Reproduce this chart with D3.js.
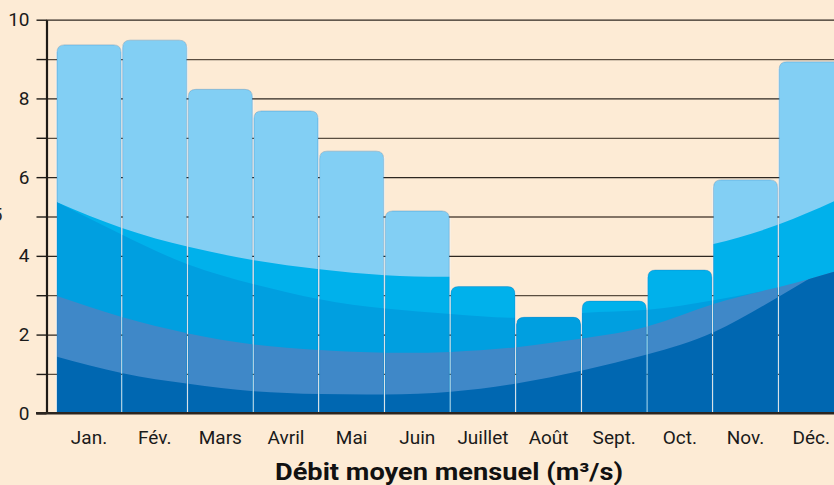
<!DOCTYPE html>
<html>
<head>
<meta charset="utf-8">
<script src="https://cdn.jsdelivr.net/npm/d3@7"></script>
<style>
  html, body { margin: 0; padding: 0; background: #fdebd5; }
  svg { display: block; }
  text { font-family: Roboto, "Noto Sans", sans-serif; }
</style>
</head>
<body>
<svg id="chart" width="834" height="485"></svg>
<script>
// ---- data ----
const months = ["Jan.", "Fév.", "Mars", "Avril", "Mai", "Juin", "Juillet", "Août", "Sept.", "Oct.", "Nov.", "Déc."];
const flow = [9.36, 9.48, 8.23, 7.68, 6.66, 5.14, 3.22, 2.44, 2.85, 3.64, 5.93, 8.93];
const yTicks = [0, 1, 2, 3, 4, 5, 6, 7, 8, 9, 10];
const yLabels = ["0", "", "2", "", "4", "", "6", "", "8", "", "10"];
const title = "Débit moyen mensuel (m³/s)";
// decorative water bands: level of each band top at the 13 bar edges
const bandLight = [5.36, 4.70, 4.23, 3.89, 3.66, 3.51, 3.47, 3.53, 3.70, 3.95, 4.30, 4.80, 5.51];
const bandCyan  = [5.36, 4.53, 3.78, 3.28, 2.90, 2.66, 2.52, 2.43, 2.55, 2.63, 2.87, 3.18, 3.50];
const bandBlue  = [2.98, 2.44, 2.03, 1.75, 1.61, 1.54, 1.56, 1.68, 1.90, 2.21, 2.78, 3.21, 3.68];
const bandSteel = [1.44, 1.02, 0.75, 0.56, 0.49, 0.48, 0.55, 0.76, 1.09, 1.50, 2.06, 2.97, 3.95];
const colors = { bg: "#fdebd5", light: "#82cff4", cyan: "#00b1eb", blue: "#009fe0", steel: "#3f88c8", dark: "#0067b1" };

// ---- scales ----
const svg = d3.select("#chart");
const x = d3.scaleBand().domain(months).range([56.2, 844]).paddingInner(0.024).paddingOuter(0.012);
const y = d3.scaleLinear().domain([0, 10]).range([413.3, 19.7]);
const bw = x.bandwidth();
const xEdge = i => x(months[0]) + i * x.step();

svg.append("rect").attr("width", 834).attr("height", 485).attr("fill", colors.bg);

// cut-off glyph at the far left (as in the reference)
svg.append("text").attr("x", 2.5).attr("y", 221).attr("text-anchor", "end")
  .attr("font-size", 19).attr("fill", "#2a2520").text("5");

// white gaps between bars
svg.append("g").selectAll("rect").data(flow).join("rect")
  .attr("x", (d, i) => x(months[i]) - 1.2)
  .attr("width", bw + 2.4)
  .attr("y", d => y(d) + 6)
  .attr("height", d => y(0) - y(d) - 6)
  .attr("fill", "#f6f4ef");

// gridlines
const grid = svg.append("g").attr("transform", "translate(46,0)")
  .call(d3.axisRight(y).tickValues(yTicks.slice(1)).tickSize(788).tickFormat(""));
grid.select(".domain").remove();
grid.selectAll(".tick line").attr("stroke", (d) => d % 2 === 0 ? "#2e2721" : "#5a4d40").attr("stroke-width", 1.3);

// bars
function barPath(d, i) {
  const x0 = x(months[i]), x1 = x0 + bw, y0 = y(d), yb = y(0), r = 7.5;
  return `M${x0},${yb}V${y0 + r}Q${x0},${y0} ${x0 + r},${y0}H${x1 - r}Q${x1},${y0} ${x1},${y0 + r}V${yb}Z`;
}
const defs = svg.append("defs");
defs.append("clipPath").attr("id", "bars").selectAll("path").data(flow).join("path").attr("d", barPath);

const band = d3.area().x((d, i) => xEdge(i)).y0(y(0)).y1(d => y(d)).curve(d3.curveNatural);
defs.append("clipPath").attr("id", "steelClip").append("path").attr("d", band(bandBlue));

const g = svg.append("g").attr("clip-path", "url(#bars)");
g.selectAll("path.bar").data(flow).join("path").attr("class", "bar").attr("d", barPath).attr("fill", colors.light);
g.append("path").attr("d", band(bandLight)).attr("fill", colors.cyan);
g.append("path").attr("d", band(bandCyan)).attr("fill", colors.blue);
g.append("path").attr("d", band(bandBlue)).attr("fill", colors.steel);
g.append("g").attr("clip-path", "url(#steelClip)")
  .append("path").attr("d", band(bandSteel)).attr("fill", colors.dark);

svg.append("g").selectAll("path").data(flow).join("path").attr("d", barPath)
  .attr("fill", "none").attr("stroke", "rgba(20,110,180,0.35)").attr("stroke-width", 0.9);

// y axis
const ya = svg.append("g").attr("transform", "translate(46.5,0)")
  .call(d3.axisLeft(y).tickValues(yTicks).tickSize(10).tickSizeOuter(0).tickPadding(7)
    .tickFormat((d, i) => yLabels[i]));
ya.select(".domain").attr("stroke", "#1e1a16").attr("stroke-width", 2.2);
ya.selectAll(".tick line").attr("stroke", "#1e1a16").attr("stroke-width", 1.4);
ya.selectAll(".tick text").attr("font-size", 19).attr("fill", "#1a1a1a").attr("font-family", "Roboto");

// baseline
svg.append("line").attr("x1", 36).attr("x2", 834).attr("y1", y(0)).attr("y2", y(0))
  .attr("stroke", "#2b2520").attr("stroke-width", 2.6);

// x axis labels
const xa = svg.append("g").attr("transform", `translate(0,${y(0)})`)
  .call(d3.axisBottom(x).tickSize(0).tickPadding(17));
xa.select(".domain").remove();
xa.selectAll(".tick text").attr("font-size", 19).attr("fill", "#1a1a1a").attr("font-family", "Roboto");

// title
svg.append("text").attr("x", 449).attr("y", 479.5).attr("text-anchor", "middle")
  .attr("font-size", 24.5).attr("font-weight", "bold").attr("fill", "#111")
  .attr("textLength", 348).attr("lengthAdjust", "spacingAndGlyphs").text(title);
</script>
</body>
</html>
